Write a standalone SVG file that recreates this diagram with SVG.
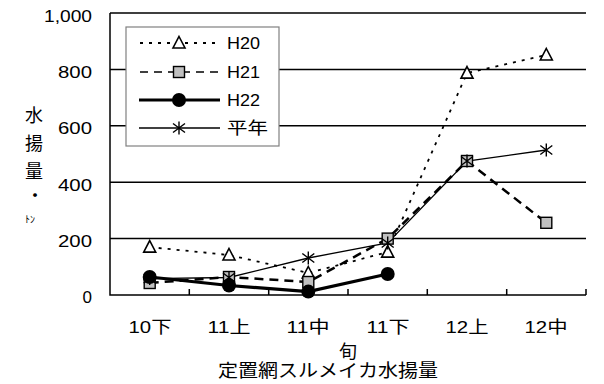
<svg xmlns="http://www.w3.org/2000/svg" width="604" height="384" viewBox="0 0 604 384">
<style>
text{font-family:"Liberation Sans","Noto Sans CJK JP",sans-serif;fill:#000}
.tk{font-size:17px;text-anchor:end}
.xl{font-size:17px;text-anchor:middle}
.yt{font-size:18px;text-anchor:middle}
.lg{font-size:17px}
.grid{stroke:#000;stroke-width:1.5;fill:none}
.s20{stroke:#000;stroke-width:1.8;fill:none;stroke-dasharray:3,6}
.s21{stroke:#000;stroke-width:2.5;fill:none;stroke-dasharray:9,6}
.s22{stroke:#000;stroke-width:3.2;fill:none}
.sav{stroke:#000;stroke-width:1.3;fill:none}
.tri{fill:#fff;stroke:#000;stroke-width:1.6}
.sq{fill:#c0c0c0;stroke:#000;stroke-width:1.4}
.ci{fill:#000}
.ast{stroke:#000;stroke-width:1.4;fill:none}
</style>
<defs>
<path id="tri" class="tri" d="M0,-6.5 L6,5 L-6,5 Z"/>
<rect id="sq" class="sq" x="-5.5" y="-5.5" width="11" height="11"/>
<circle id="ci" class="ci" r="7"/>
<path id="ast" class="ast" d="M0,-6.5 V6.5 M-6,-4.5 L6,4.5 M-6,4.5 L6,-4.5"/>
</defs>
<rect width="604" height="384" fill="#fff"/>
<g id="axes">
<path class="grid" d="M110,13 H586 M110,69.4 H586 M110,125.8 H586 M110,182.2 H586 M110,238.6 H586"/>
<path class="grid" d="M110,13 V295 H586"/>
<path class="grid" d="M189.3,295 V289 M268.7,295 V289 M348,295 V289 M427.3,295 V289 M506.7,295 V289 M586,295 V289"/>
<text class="tk" x="92" y="22" textLength="48" lengthAdjust="spacingAndGlyphs">1,000</text>
<text class="tk" x="92" y="78" textLength="34" lengthAdjust="spacingAndGlyphs">800</text>
<text class="tk" x="92" y="134" textLength="34" lengthAdjust="spacingAndGlyphs">600</text>
<text class="tk" x="92" y="191" textLength="34" lengthAdjust="spacingAndGlyphs">400</text>
<text class="tk" x="92" y="247" textLength="34" lengthAdjust="spacingAndGlyphs">200</text>
<text class="tk" x="92" y="303">0</text>
<text class="xl" x="150" y="333" textLength="43" lengthAdjust="spacingAndGlyphs">10下</text>
<text class="xl" x="229" y="333" textLength="43" lengthAdjust="spacingAndGlyphs">11上</text>
<text class="xl" x="308" y="333" textLength="43" lengthAdjust="spacingAndGlyphs">11中</text>
<text class="xl" x="388" y="333" textLength="43" lengthAdjust="spacingAndGlyphs">11下</text>
<text class="xl" x="467" y="333" textLength="43" lengthAdjust="spacingAndGlyphs">12上</text>
<text class="xl" x="546" y="333" textLength="43" lengthAdjust="spacingAndGlyphs">12中</text>
<text class="yt" x="348" y="358">旬</text>
<text class="yt" x="328" y="377" textLength="220" lengthAdjust="spacingAndGlyphs">定置網スルメイカ水揚量</text>
<text class="yt" x="34" y="122">水</text>
<text class="yt" x="34" y="150">揚</text>
<text class="yt" x="34" y="178">量</text>
<text class="yt" x="35" y="202">・</text>
<text style="font-size:10px" x="25" y="223">ﾄﾝ</text>
</g>
<g id="connectors">
<polyline class="s20" points="149.7,247.1 229,255 308.3,273 387.7,252.1 467,73.1 546.3,55"/>
<polyline class="s21" points="149.7,283 229,277 308.3,282 387.7,238.6 467,161 546.3,222.8"/>
<polyline class="s22" points="149.7,277 229,285.5 308.3,291.6 387.7,274"/>
<polyline class="sav" points="149.7,278.6 229,277.5 308.3,258 387.7,243 467,161 546.3,150"/>
</g>
<g id="H20">
<use href="#tri" x="149.7" y="247.1"/><use href="#tri" x="229" y="255"/><use href="#tri" x="308.3" y="273"/><use href="#tri" x="387.7" y="252.1"/><use href="#tri" x="467" y="73.1"/><use href="#tri" x="546.3" y="55"/>
</g>
<g id="H21">
<use href="#sq" x="149.7" y="283"/><use href="#sq" x="229" y="277"/><use href="#sq" x="308.3" y="282"/><use href="#sq" x="387.7" y="238.6"/><use href="#sq" x="467" y="161"/><use href="#sq" x="546.3" y="222.8"/>
</g>
<g id="H22">
<use href="#ci" x="149.7" y="277"/><use href="#ci" x="229" y="285.5"/><use href="#ci" x="308.3" y="291.6"/><use href="#ci" x="387.7" y="274"/>
</g>
<g id="heinen">
<use href="#ast" x="149.7" y="278.6"/><use href="#ast" x="229" y="277.5"/><use href="#ast" x="308.3" y="258"/><use href="#ast" x="387.7" y="243"/><use href="#ast" x="467" y="161"/><use href="#ast" x="546.3" y="150"/>
</g>
<g id="legend">
<rect x="126" y="27" width="153" height="119" fill="#fff" stroke="#808080" stroke-width="1.2"/>
<line class="s20" x1="140" y1="43" x2="220" y2="43"/><use href="#tri" x="179" y="43"/>
<text class="lg" x="227" y="49" textLength="33" lengthAdjust="spacingAndGlyphs">H20</text>
<line class="s21" x1="140" y1="72" x2="220" y2="72" style="stroke-width:1.5;stroke-dasharray:8,6"/><use href="#sq" x="179" y="72"/>
<text class="lg" x="227" y="78" textLength="33" lengthAdjust="spacingAndGlyphs">H21</text>
<line class="s22" x1="139" y1="100" x2="220" y2="100"/><use href="#ci" x="179" y="100"/>
<text class="lg" x="227" y="106" textLength="33" lengthAdjust="spacingAndGlyphs">H22</text>
<line class="sav" x1="139" y1="128" x2="220" y2="128"/><use href="#ast" x="179" y="128"/>
<text class="lg" x="227" y="134" textLength="41" lengthAdjust="spacingAndGlyphs">平年</text>
</g>
</svg>
